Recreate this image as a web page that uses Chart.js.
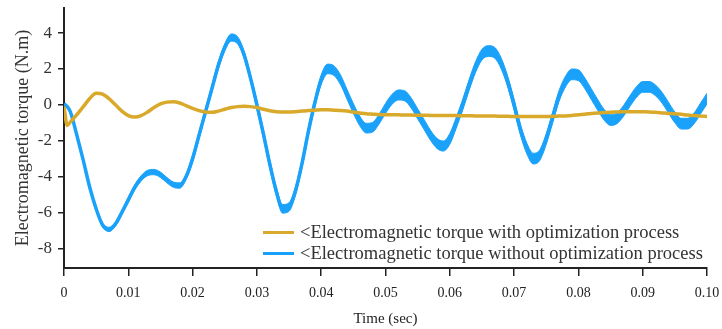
<!DOCTYPE html>
<html lang="en">
<head>
  <meta charset="UTF-8">
  <title>Electromagnetic torque</title>
  <script src="https://cdn.jsdelivr.net/npm/chart.js@4"></script>
  <style>
    body {
      margin: 0;
      background: #fff;
    }
    #wrap {
      position: relative;
      width: 722px;
      height: 329px;
    }
    #legend {
      position: absolute;
      left: 263px;
      top: 222px;
      font-family: "Liberation Serif", serif;
      font-size: 18.5px;
      color: #333;
    }
    .row {
      display: flex;
      align-items: center;
      height: 21px;
      white-space: nowrap;
    }
    .swatch {
      width: 31px;
      height: 3px;
      margin-right: 6px;
    }
  </style>
</head>
<body>

<div id="wrap">
  <canvas id="myChart" width="722" height="329"></canvas>
  <div id="legend"></div>
</div>

<script>
  // time samples (sec)
  const times = [0, 0.0005, 0.001, 0.002, 0.003, 0.004, 0.005, 0.006, 0.007, 0.008, 0.009,
    0.010, 0.011, 0.012, 0.013, 0.014, 0.015, 0.016, 0.017, 0.018, 0.019,
    0.020, 0.021, 0.022, 0.023, 0.024, 0.025, 0.026, 0.027, 0.028, 0.029,
    0.030, 0.031, 0.032, 0.033, 0.034, 0.035, 0.036, 0.037, 0.038, 0.039,
    0.040, 0.041, 0.042, 0.043, 0.044, 0.045, 0.046, 0.047, 0.048, 0.049,
    0.050, 0.051, 0.052, 0.053, 0.054, 0.055, 0.056, 0.057, 0.058, 0.059,
    0.060, 0.061, 0.062, 0.063, 0.064, 0.065, 0.066, 0.067, 0.068, 0.069,
    0.070, 0.071, 0.072, 0.073, 0.074, 0.075, 0.076, 0.077, 0.078, 0.079,
    0.080, 0.081, 0.082, 0.083, 0.084, 0.085, 0.086, 0.087, 0.088, 0.089,
    0.090, 0.091, 0.092, 0.093, 0.094, 0.095, 0.096, 0.097, 0.098, 0.099, 0.100];

  // torque with optimization (N.m)
  const torqueOpt = [-0.1, -1.15, -0.95, -0.55, -0.1, 0.35, 0.65, 0.6, 0.35, 0.0, -0.35,
    -0.6, -0.68, -0.6, -0.4, -0.15, 0.05, 0.15, 0.17, 0.1, -0.05,
    -0.2, -0.32, -0.4, -0.42, -0.35, -0.25, -0.15, -0.1, -0.08, -0.1,
    -0.15, -0.25, -0.33, -0.38, -0.4, -0.4, -0.38, -0.35, -0.32, -0.3,
    -0.28, -0.28, -0.3, -0.32, -0.35, -0.4, -0.45, -0.5, -0.52, -0.54,
    -0.55, -0.56, -0.56, -0.57, -0.57, -0.58, -0.58, -0.59, -0.59, -0.6,
    -0.6, -0.6, -0.61, -0.61, -0.62, -0.62, -0.63, -0.63, -0.64, -0.64,
    -0.65, -0.65, -0.65, -0.65, -0.65, -0.65, -0.64, -0.63, -0.62, -0.59,
    -0.55, -0.52, -0.48, -0.45, -0.43, -0.41, -0.4, -0.39, -0.38, -0.38,
    -0.39, -0.4, -0.42, -0.45, -0.48, -0.5, -0.53, -0.57, -0.6, -0.63, -0.65];

  // torque without optimization: mean value and ripple half-width (N.m)
  const torqueRaw = [0.05, -0.1, -0.4, -1.7, -3.1, -4.6, -5.8, -6.7, -6.95, -6.65, -6.0,
    -5.3, -4.6, -4.1, -3.8, -3.75, -3.9, -4.2, -4.45, -4.5, -4.0,
    -3.0, -1.7, -0.4, 0.9, 2.2, 3.2, 3.75, 3.6, 2.8, 1.5,
    0.0, -1.6, -3.3, -4.8, -5.8, -5.7, -4.8, -3.3, -1.5, 0.1,
    1.4, 2.0, 1.9, 1.4, 0.6, -0.2, -0.9, -1.3, -1.25, -0.8,
    -0.2, 0.3, 0.55, 0.5, 0.1, -0.5, -1.1, -1.7, -2.15, -2.3,
    -1.9, -1.0, 0.0, 1.1, 2.1, 2.8, 3.0, 2.9, 2.3, 1.3,
    0.0, -1.4, -2.45, -3.0, -2.8, -1.9, -0.7, 0.5, 1.3, 1.7,
    1.65, 1.2, 0.6, 0.0, -0.55, -0.85, -0.75, -0.35, 0.2, 0.7,
    1.0, 1.0, 0.8, 0.4, -0.15, -0.7, -1.05, -1.05, -0.75, -0.2, 0.35];
  const rippleRaw = [0, 0, 0, 0, 0.02, 0.05, 0.08, 0.1, 0.12, 0.12, 0.12,
    0.15, 0.15, 0.15, 0.15, 0.15, 0.15, 0.15, 0.15, 0.15, 0.15,
    0.2, 0.2, 0.2, 0.2, 0.2, 0.2, 0.2, 0.2, 0.2, 0.2,
    0.24, 0.24, 0.24, 0.24, 0.24, 0.24, 0.24, 0.24, 0.24, 0.24,
    0.27, 0.27, 0.27, 0.27, 0.27, 0.27, 0.27, 0.27, 0.27, 0.27,
    0.28, 0.28, 0.28, 0.28, 0.28, 0.28, 0.28, 0.28, 0.28, 0.28,
    0.3, 0.3, 0.3, 0.3, 0.3, 0.3, 0.3, 0.3, 0.3, 0.3,
    0.3, 0.3, 0.3, 0.3, 0.3, 0.3, 0.3, 0.3, 0.3, 0.3,
    0.3, 0.3, 0.3, 0.3, 0.3, 0.3, 0.3, 0.3, 0.3, 0.3,
    0.3, 0.3, 0.3, 0.3, 0.3, 0.3, 0.3, 0.3, 0.3, 0.3, 0.3];

  const xTicks = [0, 0.01, 0.02, 0.03, 0.04, 0.05, 0.06, 0.07, 0.08, 0.09, 0.1];
  const xTickLabels = ['0', '0.01', '0.02', '0.03', '0.04', '0.05', '0.06', '0.07', '0.08', '0.09', '0.10'];
  const yTicks = [-8, -6, -4, -2, 0, 2, 4];

  const seriesNames = ['<Electromagnetic torque with optimization process',
    '<Electromagnetic torque without optimization process'];
  const GOLD = '#d8a92a';
  const BLUE = '#1aa2fb';

  const pts = arr => times.map((t, i) => ({ x: t, y: arr[i] }));
  const upper = torqueRaw.map((v, i) => v + rippleRaw[i]);
  const lower = torqueRaw.map((v, i) => v - rippleRaw[i]);

  const line = {
    pointRadius: 0,
    cubicInterpolationMode: 'monotone',
    fill: false
  };

  // drop the automatic label overflow padding so the plot box sits where it should
  function noPad(s) {
    s.paddingTop = 0;
    s.paddingBottom = 0;
    s.paddingLeft = 0;
    s.paddingRight = 0;
  }

  const ctx = document.getElementById('myChart').getContext('2d');
  const myChart = new Chart(ctx, {
    type: 'line',
    data: {
      datasets: [
        { ...line, data: pts(torqueOpt), borderColor: GOLD, borderWidth: 3.5 },
        { ...line, data: pts(upper), borderColor: BLUE, borderWidth: 1 },
        { ...line, data: pts(lower), borderColor: BLUE, borderWidth: 1, fill: '-1', backgroundColor: BLUE },
        { ...line, data: pts(torqueRaw), borderColor: BLUE, borderWidth: 3.5 }
      ]
    },
    options: {
      responsive: false,
      animation: false,
      layout: { padding: { top: 8, right: 15, left: 0, bottom: 0 } },
      plugins: { legend: { display: false }, tooltip: { enabled: false } },
      scales: {
        x: {
          type: 'linear',
          min: 0,
          max: 0.1,
          afterBuildTicks: s => { s.ticks = xTicks.map(v => ({ value: v })); },
          afterFit: s => { s.height = 61; noPad(s); },
          grid: { drawOnChartArea: false, drawTicks: true, tickLength: 8, color: '#222', lineWidth: 1.5 },
          border: { display: true, color: '#222', width: 2 },
          ticks: {
            padding: 9,
            maxRotation: 0,
            color: '#222',
            font: { family: 'Liberation Serif', size: 14 },
            callback: (v, i) => xTickLabels[i]
          },
          title: {
            display: true,
            text: 'Time (sec)',
            color: '#222',
            font: { family: 'Liberation Serif', size: 15 },
            padding: { top: 0, bottom: 1 }
          }
        },
        y: {
          min: -9.1,
          max: 5.4,
          afterBuildTicks: s => { s.ticks = yTicks.map(v => ({ value: v })); },
          afterFit: s => { s.width = 64; noPad(s); },
          grid: { drawOnChartArea: false, drawTicks: true, tickLength: 6, color: '#222', lineWidth: 1.5 },
          border: { display: true, color: '#222', width: 2 },
          ticks: {
            padding: 6,
            color: '#333',
            font: { family: 'Liberation Serif', size: 17 }
          },
          title: {
            display: true,
            text: 'Electromagnetic torque (N.m)',
            color: '#333',
            font: { family: 'Liberation Serif', size: 18 },
            padding: { top: 12, bottom: 0 }
          }
        }
      }
    }
  });

  // legend inside the plot, bottom right
  const legendBox = document.getElementById('legend');
  [GOLD, BLUE].forEach((c, i) => {
    const row = document.createElement('div');
    row.className = 'row';
    row.innerHTML = '<span class="swatch" style="background:' + c + '"></span>';
    const txt = document.createElement('span');
    txt.textContent = seriesNames[i];
    row.appendChild(txt);
    legendBox.appendChild(row);
  });
</script>

</body>
</html>
